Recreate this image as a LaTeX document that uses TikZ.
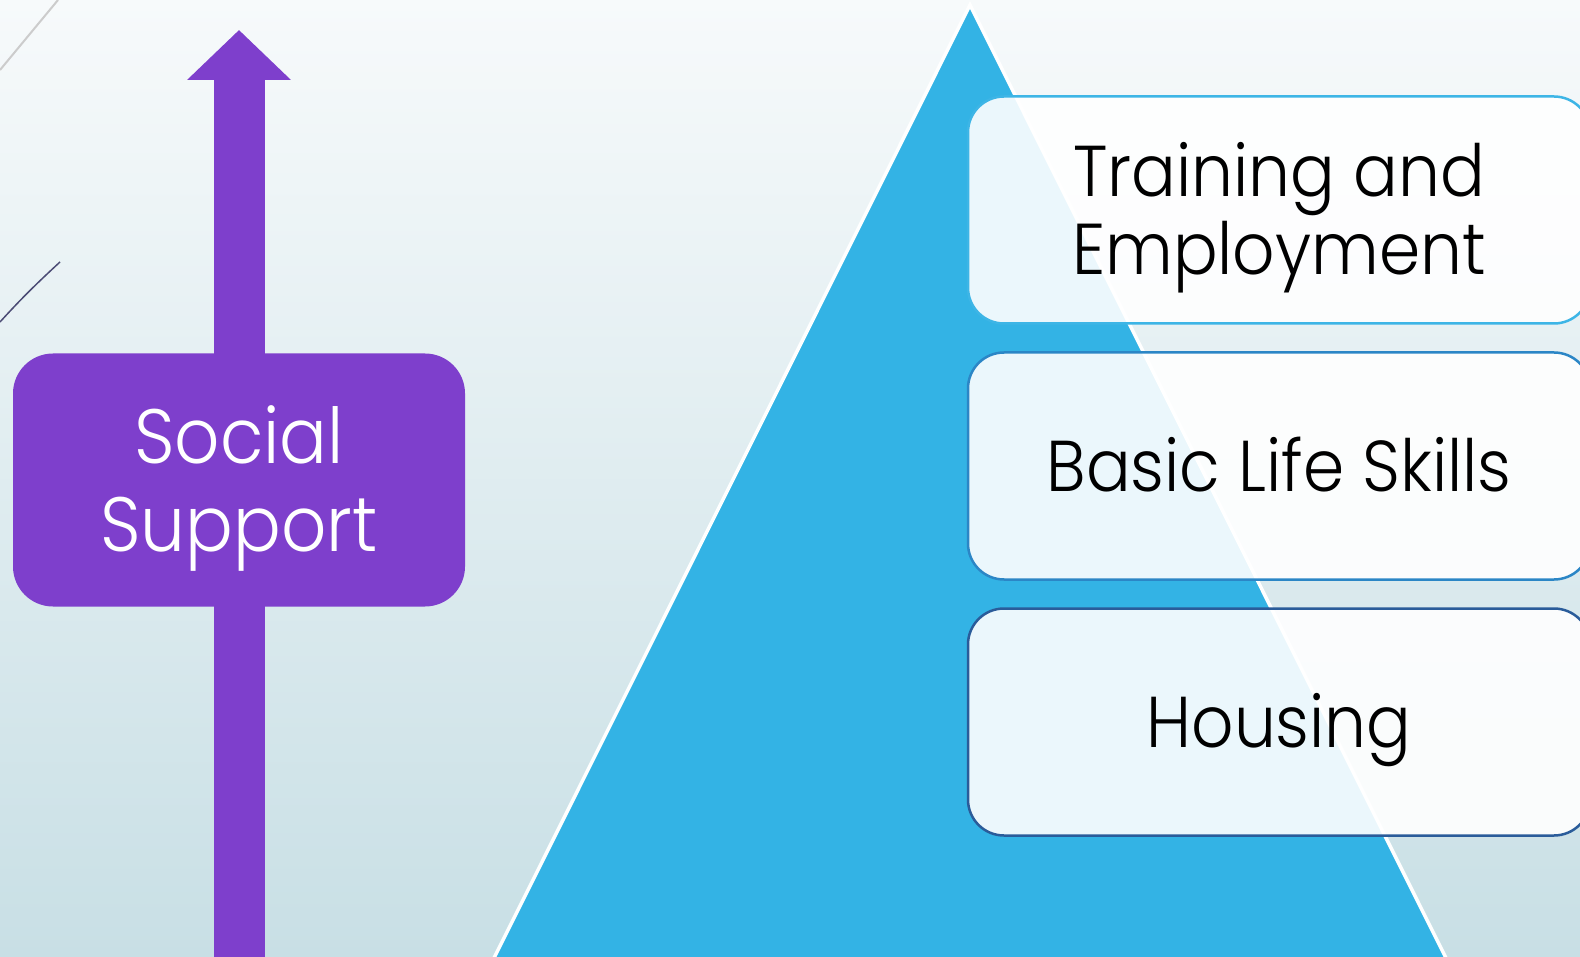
\documentclass[tikz,border=0pt]{standalone}
\usepackage{fontspec}
\setmainfont{Poppins}[UprightFont=* Light, FakeStretch=0.92]
\usepackage{tikz}
\usetikzlibrary{positioning,arrows.meta,shapes}

\definecolor{bgtop}{HTML}{F7FAFB}
\definecolor{bgbottom}{HTML}{C8DFE5}
\definecolor{support}{HTML}{7E3FCC}
\definecolor{pyramid}{HTML}{33B3E5}
\definecolor{lineA}{HTML}{3DB5E6}
\definecolor{lineB}{HTML}{2B86C6}
\definecolor{lineC}{HTML}{2A5C9A}

\tikzset{
    level/.style={draw, line width=2.5pt, fill=white, fill opacity=0.9, text opacity=1,
        rounded corners=36pt, minimum width=622pt, minimum height=227pt, inner sep=0pt,
        align=center, font=\fontsize{72}{78}\selectfont, text height=51pt, text depth=0pt},
    supportbox/.style={fill=support, rounded corners=40pt, minimum width=452pt,
        minimum height=253pt, inner sep=0pt, align=center, text=white,
        font=\fontsize{77}{88}\selectfont, text height=142pt, text depth=0pt}
}

\begin{document}
\begin{tikzpicture}[x=1pt,y=-1pt,node distance=256pt,on grid]
    \useasboundingbox (0,0) rectangle (1580,957);
    \clip (0,0) rectangle (1580,957);
    \shade[top color=bgtop, bottom color=bgbottom] (0,0) rectangle (1580,957);

    % thin lines in the corner
    \draw[color=black!20, line width=2pt] (0,70) -- (58,0);
    \draw[color=black!60!blue!40!gray, line width=1.5pt] (0,322) .. controls (20,300) and (35,285) .. (60,262);

    % pyramid
    \coordinate (apex) at (970,5);
    \coordinate (baseL) at (493,960);
    \coordinate (baseR) at (1447,960);
    \fill[pyramid, draw=white, line width=3.5pt] (apex) -- (baseR) -- (baseL) -- cycle;

    % social support arrow
    \coordinate (foot) at (239,960);
    \coordinate (tip) at (239,30);
    \draw[support, line width=51pt, -{Triangle[width=101pt,length=50pt]}] (foot) -- (tip);
    \node[supportbox] (support) at (239,480) {Social\\Support};

    % levels
    \node[level, draw=lineA, text height=129pt] (training) at (1279,210) {Training and\\Employment};
    \node[level, draw=lineB] (skills) [below=of training] {Basic Life Skills};
    \node[level, draw=lineC] (housing) [below=of skills] {Housing};
\end{tikzpicture}
\end{document}
